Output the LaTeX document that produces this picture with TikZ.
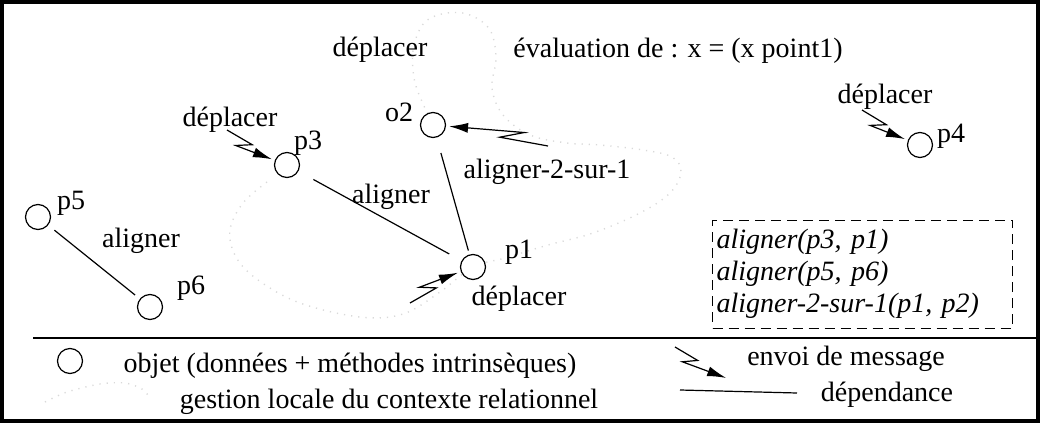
\documentclass[tikz,border=0pt]{standalone}
\usepackage{fontspec}
\setmainfont{Liberation Serif}
\usetikzlibrary{calc, arrows.meta}

% envoi de message : trait brise en eclair
\newcommand{\envoi}[3][-90]{%
  \draw[msg] (#2) -- ($(#2)!0.42!(#3)$) -- ($(#2)!0.22!(#3)!4.5pt!#1:(#3)$) -- (#3);}

\begin{document}
\begin{tikzpicture}[x=0.5pt, y=-0.5pt,
    font=\fontsize{14pt}{16pt}\selectfont,
    obj/.style={circle, draw, fill=white, line width=0.6pt, minimum size=12.5pt, inner sep=0pt},
    msg/.style={line width=0.6pt, -{Latex[length=9.5pt, width=5pt]}, shorten >=1.5pt},
    dep/.style={line width=0.6pt},
    blob/.style={gray!30, line width=0.7pt, dash pattern=on 0.6pt off 3pt}]
    \useasboundingbox (0,0) rectangle (1040,423);
    \draw[line width=2pt] (2,2) rectangle (1038,421);

    % contexte relationnel (pointilles)
    \draw[blob] plot[smooth, tension=0.6] coordinates {
        (267,182) (243,203) (230,230) (236,257) (258,280) (300,303) (360,317)
        (403,314) (440,292) (473,267) (505,258) (548,245) (593,233) (640,213)
        (670,193) (681,172) (672,157) (643,150) (600,145) (567,143) (530,135)
        (503,115) (492,88) (496,58) (490,30) (470,15) (447,13) (425,22)
        (414,45) (413,70) (418,92) (433,125)};

    % objets
    \node[obj] (p3) at (287,165) {};
    \node[obj] (o2) at (433,125) {};
    \node[obj] (p1) at (473,267) {};
    \node[obj] (p4) at (920,145) {};
    \node[obj] (p5) at (38,217) {};
    \node[obj] (p6) at (150,307) {};

    \node (lp3) at (308,143) {p3};
    \node (lo2) at (399,112) {o2};
    \node (lp1) at (519,252) {p1};
    \node (lp4) at (951,136) {p4};
    \node (lp5) at (71,203) {p5};
    \node (lp6) at (191,288) {p6};

    % dependances
    \draw[dep, shorten <=8.5pt, shorten >=7pt] (p3) -- (p1);
    \draw[dep, shorten <=8pt, shorten >=2pt] (o2) -- (p1);
    \draw[dep, shorten <=4pt, shorten >=3pt] (p5) -- (p6);
    \node (al1) at (391,197) {aligner};
    \node (al2) at (547,172) {aligner-2-sur-1};
    \node (al3) at (141,241) {aligner};

    % messages
    \node (dp0) at (380,50) {déplacer};
    \node (ev) at (678,51) {évaluation de : x = (x point1)};
    \node (dp3) at (230,120) {déplacer};
    \node (dp1) at (519,299) {déplacer};
    \node (dp4) at (885,97) {déplacer};
    \coordinate (s3) at (227,130);
    \coordinate (s2) at (548,146);
    \coordinate (s1) at (410,303);
    \coordinate (s4) at (862,110);
    \envoi{s3}{p3}
    \envoi{s2}{o2}
    \envoi[90]{s1}{p1}
    \envoi{s4}{p4}

    % contraintes
    \node[draw, dashed, dash pattern=on 5pt off 3pt, line width=0.5pt,
          text width=146pt, inner sep=2pt, minimum height=54pt, align=left,
          font=\fontsize{14pt}{16pt}\selectfont\itshape] (cstr) at (862.5,274)
        {aligner(p3, p1)\\aligner(p5, p6)\\aligner-2-sur-1(p1, p2)};

    % legende
    \draw[dep] (33,338) -- (1037,338);
    \node[obj] (lgobj) at (70,361) {};
    \node (tobj) at (350,366) {objet (données + méthodes intrinsèques)};
    \draw[blob] plot[smooth] coordinates {(45,402) (67,392) (100,384) (125,383) (142,389) (150,398)};
    \node (tctx) at (389,402) {gestion locale du contexte relationnel};
    \coordinate (lga) at (675,347);
    \coordinate (lgb) at (729,379);
    \envoi{lga}{lgb}
    \node (tmsg) at (846,359) {envoi de message};
    \coordinate (lda) at (680,390);
    \coordinate (ldb) at (797,393);
    \draw[dep] (lda) -- (ldb);
    \node (tdep) at (887,395) {dépendance};
\end{tikzpicture}
\end{document}
